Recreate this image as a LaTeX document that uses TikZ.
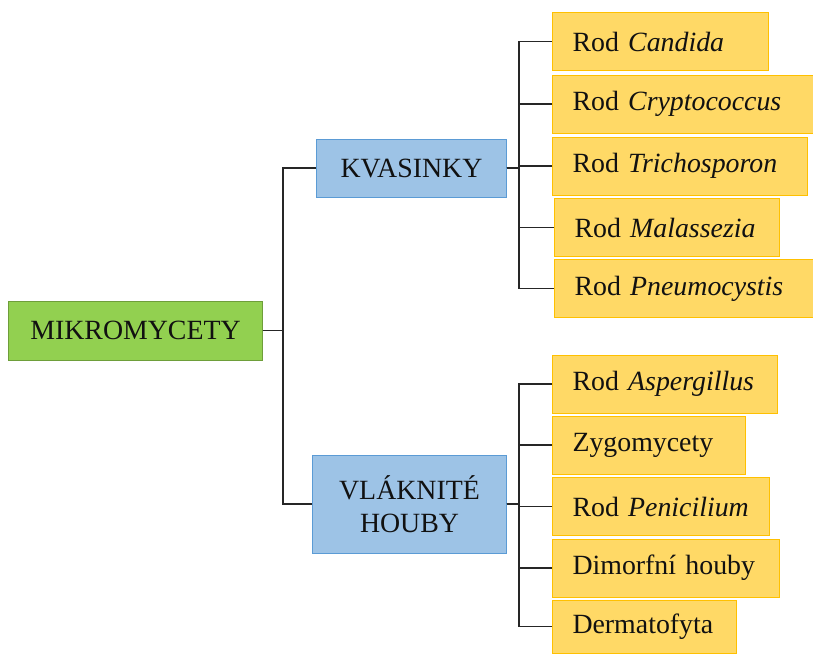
\documentclass[tikz,border=0pt]{standalone}
\usepackage{fontspec}
\setmainfont{Liberation Serif}
\usetikzlibrary{positioning,calc}
\definecolor{ink}{HTML}{111111}
\definecolor{linecol}{HTML}{262626}
\definecolor{rootfill}{HTML}{92D050}
\definecolor{rootline}{HTML}{6E9E3A}
\definecolor{groupfill}{HTML}{9DC3E6}
\definecolor{groupline}{HTML}{5B9BD5}
\definecolor{leaffill}{HTML}{FFD966}
\definecolor{leafline}{HTML}{FFC000}

\begin{document}
\begin{tikzpicture}[
  x=0.025cm, y=-0.025cm,
  box/.style={
    draw, line width=0.7pt, align=center, inner sep=0pt,
    text=ink, font=\fontsize{19.8}{23.5}\selectfont
  },
  root/.style={box, fill=rootfill, draw=rootline, minimum width=6.325cm, minimum height=1.475cm},
  group/.style={box, fill=groupfill, draw=groupline},
  leaf/.style={box, fill=leaffill, draw=leafline, anchor=west, align=left,
    inner xsep=0.5cm, minimum height=1.45cm, text width=#1},
  conn/.style={line width=1.2pt, draw=linecol}
]
\clip (0,0) rectangle (813,653);

%% ---------- root + groups ----------
\node[root] (mikro) at (135.5,330.5) {MIKROMYCETY};
\node[group, minimum width=4.725cm, minimum height=1.45cm] (kvas) at (411.5,168) {KVASINKY};
\node[group, minimum width=4.825cm, minimum height=2.45cm] (vlakn) at (409.5,504) {VLÁKNITÉ\\HOUBY};

%% ---------- yeasts ----------
\node[leaf=4.4cm]   (cand) at (552,41.5)  {Rod \textit{Candida}};
\node[leaf=5.525cm] (cryp) at (552,104)   {Rod \textit{Cryptococcus}};
\node[leaf=5.375cm] (tric) at (552,166)   {Rod \textit{Trichosporon}};
\node[leaf=4.625cm] (mala) at (554,227.5) {Rod \textit{Malassezia}};
\node[leaf=5.475cm] (pneu) at (554,288.5) {Rod \textit{Pneumocystis}};

%% ---------- moulds ----------
\node[leaf=4.625cm] (aspe) at (552,384)   {Rod \textit{Aspergillus}};
\node[leaf=3.825cm] (zygo) at (552,445)   {Zygomycety};
\node[leaf=4.425cm] (peni) at (552,506.5) {Rod \textit{Penicilium}};
\node[leaf=4.675cm] (dimo) at (552,568)   {Dimorfní houby};
\node[leaf=3.6cm, minimum height=1.325cm] (derm) at (552,626.5) {Dermatofyta};

%% ---------- connectors ----------
\coordinate (mbus) at (283,0);
\coordinate (kbus) at (519,0);
\coordinate (vbus) at (519,0);

\foreach \g in {kvas,vlakn}
  \draw[conn] (mikro.east) -- (mbus |- mikro.east) |- (\g.west);

\foreach \n in {cand,cryp,tric,mala,pneu}
  \draw[conn] (kvas.east) -- (kbus |- kvas.east) |- (\n.west);

\foreach \n in {aspe,zygo,peni,dimo,derm}
  \draw[conn] (vlakn.east) -- (vbus |- vlakn.east) |- (\n.west);

\end{tikzpicture}
\end{document}
